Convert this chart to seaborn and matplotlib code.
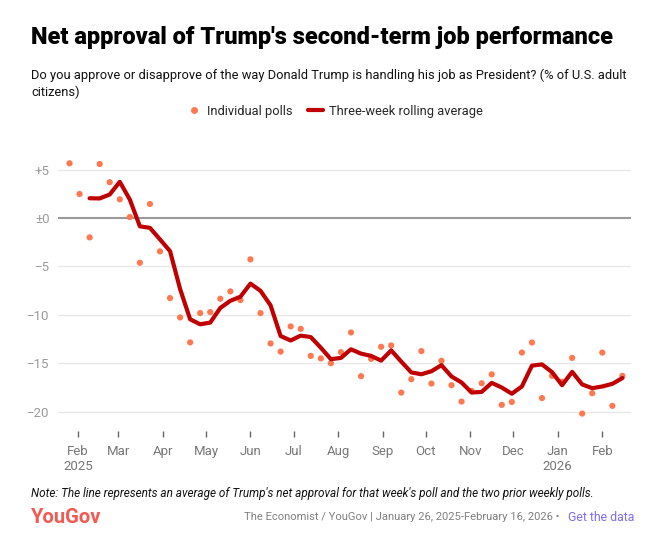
import matplotlib
matplotlib.use('Agg')

import pandas as pd
import matplotlib.pyplot as plt
import seaborn as sns

# weekly polls, Jan 26 2025 - Feb 15 2026
poll_dates = pd.date_range("2025-01-26", periods=56, freq="7D")
poll_values = [5.65, 2.48, -2.0, 5.58, 3.7, 1.93, 0.1, -4.62, 1.45, -3.45,
               -8.27, -10.27, -12.85, -9.82, -9.72, -8.34, -7.58, -8.48, -4.27, -9.82,
               -12.96, -13.8, -11.2, -11.45, -14.24, -14.5, -15.0, -13.86, -11.82, -16.34,
               -14.55, -13.3, -13.16, -18.03, -16.65, -13.75, -17.1, -14.75, -17.27, -18.96,
               -17.86, -17.07, -16.15, -19.3, -19.0, -13.9, -12.86, -18.6, -16.3, -16.91,
               -14.45, -20.2, -18.1, -13.9, -19.4, -16.3]

# three-week rolling average (starts with the third poll)
avg_values = [2.04, 2.02, 2.43, 3.74, 1.91, -0.86, -1.02, -2.21, -3.42, -7.33,
              -10.46, -10.98, -10.80, -9.29, -8.55, -8.13, -6.78, -7.52, -9.02, -12.19,
              -12.65, -12.15, -12.30, -13.40, -14.58, -14.45, -13.56, -14.01, -14.24, -14.73,
              -13.67, -14.83, -15.95, -16.14, -15.83, -15.20, -16.37, -16.99, -18.03, -17.96,
              -17.03, -17.51, -18.15, -17.40, -15.25, -15.12, -15.92, -17.27, -15.89, -17.19,
              -17.58, -17.40, -17.13, -16.53]

y_ticks = [-20, -15, -10, -5, 0, 5]
y_labels = ["\u221220", "\u221215", "\u221210", "\u22125", "\u00b10", "+5"]
month_ticks = pd.date_range("2025-02-01", "2026-02-01", freq="MS")
month_labels = ["Feb\n2025", "Mar", "Apr", "May", "Jun", "Jul", "Aug", "Sep",
                "Oct", "Nov", "Dec", "Jan\n2026", "Feb"]

polls = pd.DataFrame({"date": poll_dates, "net": poll_values})
avg = pd.DataFrame({"date": poll_dates[2:], "net": avg_values})

sns.set_theme(style="white")
plt.rcParams['font.family'] = ['Roboto', 'DejaVu Sans']

DOT = "#ff7850"
LINE = "#c00000"

fig = plt.figure(figsize=(6.49, 5.42), dpi=100)
ax = fig.add_axes([0.0894, 0.2048, 0.8829, 0.518])

for v in y_ticks:
    if v == 0:
        ax.axhline(v, color="#9a9a9a", lw=1.5, zorder=1)
    else:
        ax.axhline(v, color="#e8e8e8", lw=1, zorder=0)

sns.scatterplot(data=polls, x="date", y="net", ax=ax, color=DOT, s=20,
                edgecolor="none", zorder=2)
sns.lineplot(data=avg, x="date", y="net", ax=ax, color=LINE, lw=3,
             solid_joinstyle="round", solid_capstyle="round", zorder=3)

ax.set_xlim(pd.Timestamp("2025-01-18"), pd.Timestamp("2026-02-21"))
ax.set_ylim(-22, 7)
ax.set_yticks(y_ticks, y_labels)
ax.set_xticks(month_ticks, month_labels)
ax.set_xlabel("")
ax.set_ylabel("")
for s in ax.spines.values():
    s.set_visible(False)
ax.tick_params(axis="y", length=0, pad=6, labelsize=9.5, labelcolor="#9a9a9a")
ax.tick_params(axis="x", length=4, width=1, color="#666666", pad=6,
               labelsize=9.5, labelcolor="#777777", bottom=True)
ax.grid(False)

# titles
fig.text(0.048, 0.931, "Net approval of Trump's second-term job performance",
         fontsize=17, fontweight="heavy", color="#000000", va="center")
fig.text(0.048, 0.862, "Do you approve or disapprove of the way Donald Trump is handling his job as President? (% of U.S. adult",
         fontsize=9.3, color="#111111", va="center")
fig.text(0.048, 0.829, "citizens)", fontsize=9.3, color="#111111", va="center")

# legend
h_dot = plt.Line2D([], [], marker="o", ls="none", color=DOT, markersize=4)
h_line = plt.Line2D([], [], color=LINE, lw=3)
fig.legend([h_dot, h_line], ["Individual polls", "Three-week rolling average"],
           loc="center", bbox_to_anchor=(0.515, 0.795), ncol=2, frameon=False,
           fontsize=9.3, handlelength=1.2, handletextpad=0.4, columnspacing=1.2)

# footer
fig.text(0.048, 0.090, "Note: The line represents an average of Trump's net approval for that week's poll and the two prior weekly polls.",
         fontsize=8.5, style="italic", color="#111111", va="center")
fig.text(0.048, 0.046, "YouGov", fontsize=14.5, fontweight="bold", color="#f25a52", va="center")
fig.text(0.977, 0.046, "Get the data", fontsize=8.8, color="#7b6cf0", va="center", ha="right")
fig.text(0.862, 0.046, "The Economist / YouGov | January 26, 2025-February 16, 2026 \u2022",
         fontsize=8.1, color="#808080", va="center", ha="right")

plt.savefig("out.png", dpi=100)
